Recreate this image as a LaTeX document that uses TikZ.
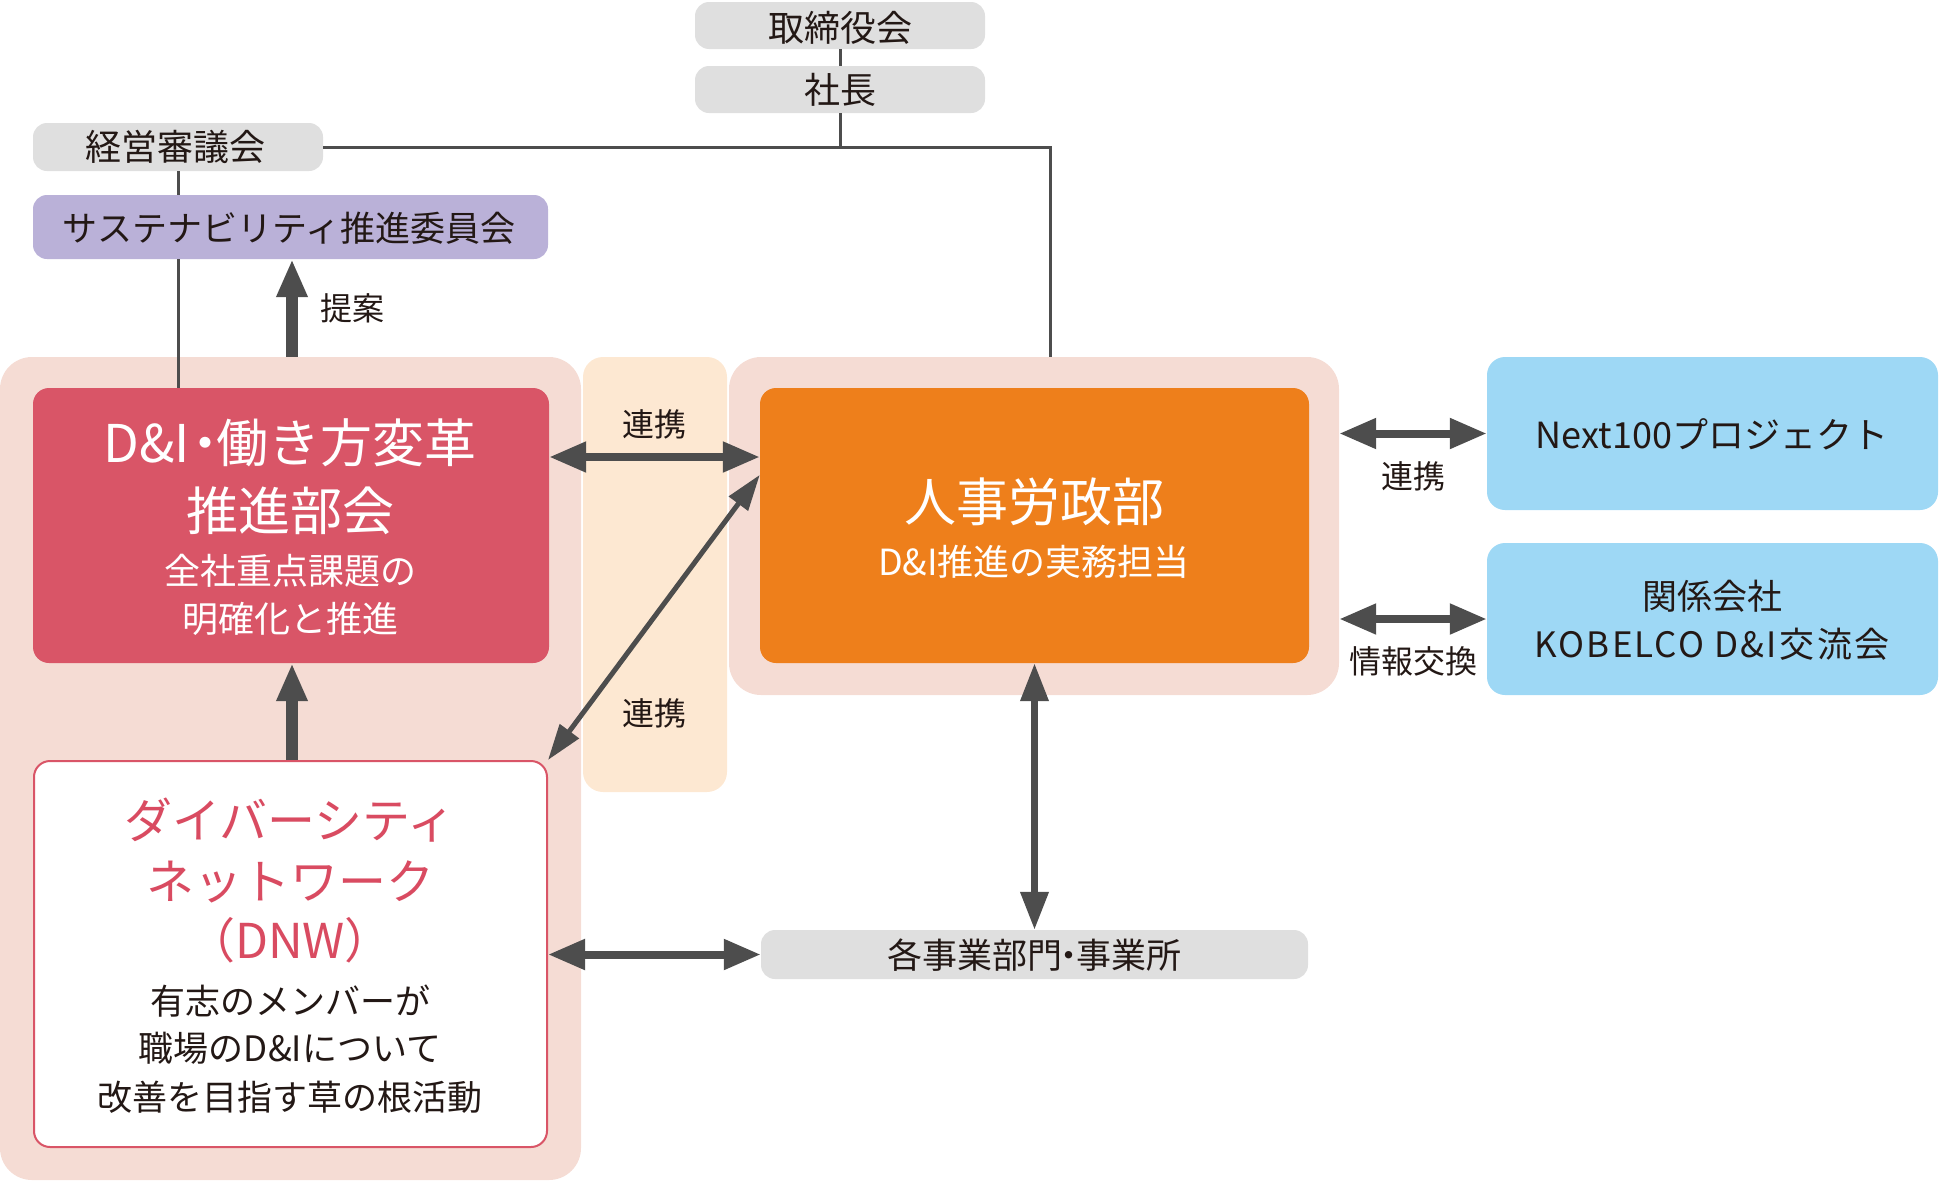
\documentclass[tikz,border=0pt]{standalone}
\usepackage{fontspec}
\setmainfont{Noto Sans CJK JP}
\usetikzlibrary{arrows.meta,calc}
\definecolor{graybox}{HTML}{DFDFDF}
\definecolor{lav}{HTML}{BAB1D8}
\definecolor{pinkbg}{HTML}{F5DCD4}
\definecolor{stripbg}{HTML}{FDE8D2}
\definecolor{dired}{HTML}{D95567}
\definecolor{hrorange}{HTML}{EE7F1B}
\definecolor{bluebox}{HTML}{9ED8F5}
\definecolor{dnwred}{HTML}{D94B61}
\definecolor{lc}{HTML}{4D4D4D}
\definecolor{ink}{HTML}{231815}
\newcommand{\fsz}[1]{\fontsize{#1}{#1}\selectfont}
\tikzset{
  s52/.style={inner sep=0pt, font=\fsz{52}, text height=45.76pt, text depth=6.24pt},
  s48/.style={inner sep=0pt, font=\fsz{48}, text height=42.24pt, text depth=5.76pt},
  s36/.style={inner sep=0pt, font=\fsz{36}, text height=31.68pt, text depth=4.32pt},
  s35/.style={inner sep=0pt, font=\fsz{35}, text height=30.8pt, text depth=4.2pt},
  s34/.style={inner sep=0pt, font=\fsz{34}, text height=29.92pt, text depth=4.08pt},
  s32/.style={inner sep=0pt, font=\fsz{32}, text height=28.16pt, text depth=3.84pt},
  box/.style={inner sep=0pt, rounded corners=14pt, draw=none},
  grp/.style={inner sep=0pt, rounded corners=32pt, draw=none},
  conn/.style={draw=lc, line width=3pt},
  harr/.style={draw=lc, line width=8pt, {Triangle[length=37pt,width=29pt]}-{Triangle[length=37pt,width=29pt]}},
  varr/.style={draw=lc, line width=7pt, {Triangle[length=38pt,width=27pt]}-{Triangle[length=38pt,width=27pt]}},
  darr/.style={draw=lc, line width=5pt, {Triangle[length=36pt,width=23pt]}-{Triangle[length=36pt,width=23pt]}},
  uarr/.style={draw=lc, line width=12pt, -{Triangle[length=38pt,width=29pt]}},
}
\begin{document}
\begin{tikzpicture}[x=1pt,y=-1pt]
\useasboundingbox (0,0) rectangle (1940,1181);
% background groups
\node[grp, fill=pinkbg, minimum width=581pt, minimum height=823pt] (pinkL) at (290.5,768.5) {};
\node[grp, fill=stripbg, rounded corners=20pt, minimum width=144pt, minimum height=435pt] (strip) at (655,574.5) {};
\node[grp, fill=pinkbg, minimum width=610pt, minimum height=338pt] (pinkR) at (1034,526) {};
% top boxes
\node[box, fill=graybox, minimum width=290pt, minimum height=47pt] (tori) at (840,25.5) {};
\node[box, fill=graybox, minimum width=290pt, minimum height=47pt] (shacho) at (840,89.5) {};
\node[box, fill=graybox, minimum width=290pt, minimum height=48pt] (keiei) at (178,147) {};
\node[box, fill=lav, minimum width=515pt, minimum height=64pt] (sus) at (290.5,227) {};
% main boxes
\node[box, fill=dired, rounded corners=16pt, minimum width=516pt, minimum height=275pt] (di) at (291,525.5) {};
\node[box, fill=hrorange, rounded corners=16pt, minimum width=549pt, minimum height=275pt] (hr) at (1034.5,525.5) {};
\node[box, fill=bluebox, rounded corners=18pt, minimum width=451pt, minimum height=153pt] (next) at (1712.5,433.5) {};
\node[box, fill=bluebox, rounded corners=18pt, minimum width=451pt, minimum height=152pt] (kobe) at (1712.5,619) {};
\node[box, fill=white, draw=dired, line width=2pt, rounded corners=16pt, minimum width=513pt, minimum height=386pt] (dnw) at (290.5,954) {};
\node[box, fill=graybox, minimum width=547pt, minimum height=49pt] (bu) at (1034.5,954.5) {};
% texts
\node[s36, text=ink] (ttori) at (840,28) {取締役会};
\node[s36, text=ink] (tshacho) at (840,90) {社長};
\node[s36, text=ink] (tkeiei) at (175,147) {経営審議会};
\node[s35, text=ink] (tsus) at (289,228) {サステナビリティ推進委員会};
\node[s32, text=ink] (tteian) at (352,308) {提案};
\node[s32, text=ink] (trenkei1) at (654,424) {連携};
\node[s32, text=ink] (trenkei2) at (654,713) {連携};
\node[s32, text=ink] (trenkei3) at (1413,476) {連携};
\node[s32, text=ink] (tjoho) at (1413,661) {情報交換};
\node[s52, text=white] (tdi1) at (290,443) {D\&I\kern-0.2em・\kern-0.3em働き方変革};
\node[s52, text=white] (tdi2) at (290,511) {推進部会};
\node[s36, text=white] (tdi3) at (290,571) {全社重点課題の};
\node[s36, text=white] (tdi4) at (290,619) {明確化と推進};
\node[s52, text=white] (thr1) at (1034,502) {人事労政部};
\node[s36, text=white] (thr2) at (1034,562) {D\&I推進の実務担当};
\node[s36, text=ink] (tnext) at (1712,435) {Next100プロジェクト};
\node[s35, text=ink] (tkobe1) at (1712,596) {関係会社};
\node[s35, text=ink] (tkobe2) at (1712,644) {\addfontfeature{LetterSpace=6}KOBELCO D\&I\kern0.1em交流会};
\node[s48, text=dnwred] (tdnw1) at (290,820) {ダイバーシティ};
\node[s48, text=dnwred] (tdnw2) at (290,881) {ネットワーク};
\node[s48, text=dnwred] (tdnw3) at (290,940) {（DNW）};
\node[s35, text=ink] (tdnw4) at (290,1001) {有志のメンバーが};
\node[s35, text=ink] (tdnw5) at (290,1048) {職場のD\&Iについて};
\node[s35, text=ink] (tdnw6) at (290,1097) {改善を目指す草の根活動};
\node[s35, text=ink] (tbu) at (1034,955) {各事業部門\kern-0.3em・\kern-0.3em事業所};
% connectors
\coordinate (xr) at (1050,0);
\coordinate (xt) at (292,0);
\coordinate (yr1) at (0,457);
\draw[conn] (tori.south) -- (shacho.north);
\draw[conn] (keiei.east) -- (xr |- keiei.east) -- (xr |- pinkR.north);
\draw[conn] (shacho.south) -- (shacho.south |- keiei.east);
\draw[conn] (keiei.south) -- (keiei.south |- sus.north);
\draw[conn] (keiei.south |- sus.south) -- (keiei.south |- di.north);
\draw[uarr] (xt |- pinkL.north) -- (xt |- sus.south);
\draw[uarr] (xt |- dnw.north) -- (xt |- di.south);
\draw[harr] (di.east |- yr1) -- (hr.west |- yr1);
\draw[darr] ($(hr.north west)+(0,87)$) -- (dnw.north east);
\draw[harr] (pinkR.east |- next.west) -- (next.west);
\draw[harr] (pinkR.east |- kobe.west) -- (kobe.west);
\draw[varr] (hr.south) -- (bu.north);
\draw[harr] (dnw.east |- bu.west) -- (bu.west);
\end{tikzpicture}
\end{document}
